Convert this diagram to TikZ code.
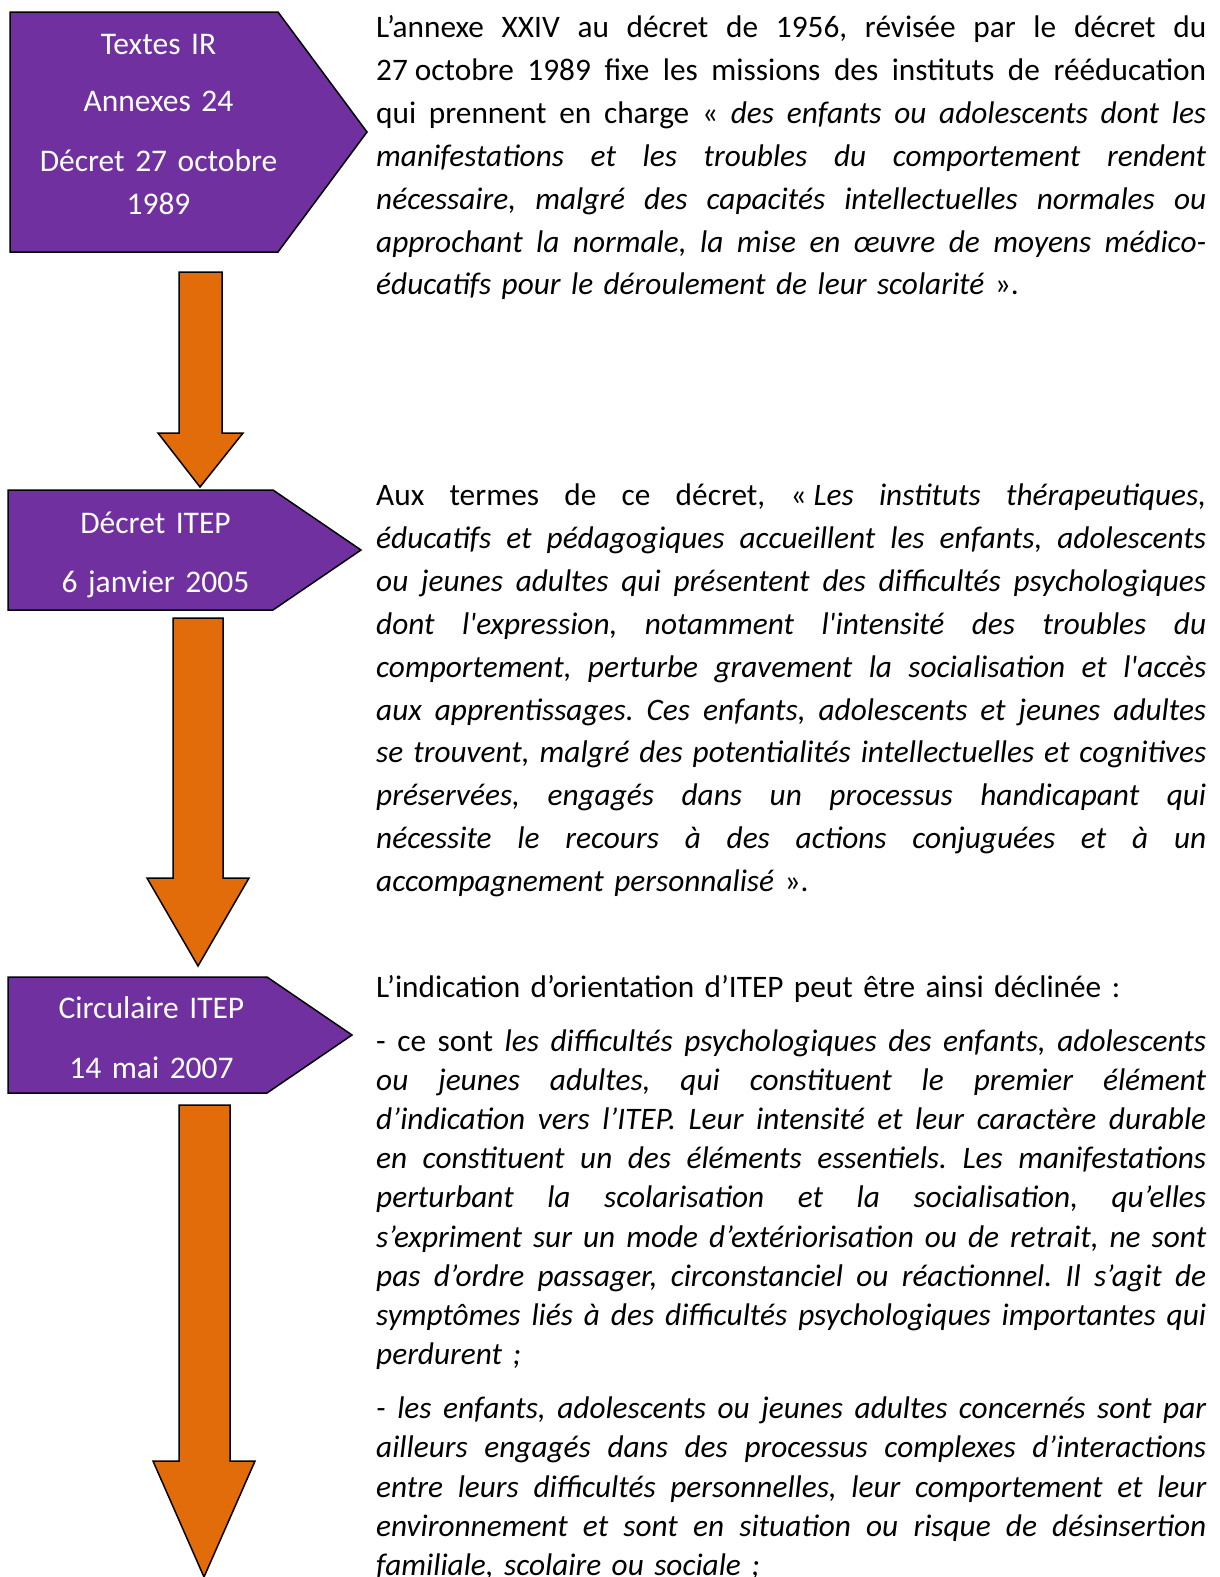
\documentclass[tikz,border=0pt]{standalone}
\usepackage{fontspec}
\setmainfont{Carlito}[Ligatures=TeXOff]
\definecolor{pentpurple}{HTML}{7030A0}
\definecolor{arroworange}{HTML}{E36C0A}
\newcommand\JLine[1]{{\spaceskip=.226em plus 1fil minus .08em\relax
  \xspaceskip=\spaceskip\makebox[830pt][s]{#1}}}
\begin{document}
\begin{tikzpicture}[x=1pt,y=-1pt,
  pent/.style={draw=black, line width=1.5pt, fill=pentpurple, line join=miter},
  blockarrow/.style={draw=black, line width=1.5pt, fill=arroworange, line join=miter},
  penttext/.style={text=white, font=\fontsize{31.5}{43}\selectfont, align=center, text width=320pt, inner sep=0pt, anchor=base},
  bodytext/.style={text=black, font=\fontsize{31.3}{42.9}\selectfont\frenchspacing, text width=830pt, inner sep=0pt, anchor=base west},
  bodytextsingle/.style={bodytext, font=\fontsize{31.3}{39.1}\selectfont\frenchspacing}]
\useasboundingbox (0,0) rectangle (1220,1577);

% pentagons
\path[pent] (10,12) -- (278,12) -- (367,132) -- (278,252) -- (10,252) -- cycle;
\path[pent] (8,490) -- (273,490) -- (361,550) -- (273,610) -- (8,610) -- cycle;
\path[pent] (8,977) -- (267,977) -- (352,1035) -- (267,1093) -- (8,1093) -- cycle;

% block arrows
\path[blockarrow] (179,272) -- (222,272) -- (222,433) -- (243,433) -- (200,487) -- (158,433) -- (179,433) -- cycle;
\path[blockarrow] (173,618) -- (223,618) -- (223,878) -- (249,878) -- (198,966) -- (147,878) -- (173,878) -- cycle;
\path[blockarrow] (179,1105) -- (230,1105) -- (230,1461) -- (255,1461) -- (204,1577) -- (153,1461) -- (179,1461) -- cycle;

% pentagon texts
\node[penttext] (t1) at (158.5,54) {Textes IR\\[14.2pt]Annexes 24\\[17pt]Décret 27 octobre\\1989};
\node[penttext] (t2) at (155.5,533) {Décret ITEP\\[16pt]6 janvier 2005};
\node[penttext] (t3) at (151.5,1018.5) {Circulaire ITEP\\[16.7pt]14 mai 2007};

% body texts
\node[bodytext] (b1) at (376,37.5) {%
\JLine{L’annexe XXIV au décret de 1956, révisée par le décret du}\\
\JLine{\mbox{27 octobre} 1989 fixe les missions des instituts de rééducation}\\
\JLine{qui prennent en charge « \textit{des enfants ou adolescents dont les}}\\
\JLine{\itshape manifestations et les troubles du comportement rendent}\\
\JLine{\itshape nécessaire, malgré des capacités intellectuelles normales ou}\\
\JLine{\itshape approchant la normale, la mise en œuvre de moyens médico-}\\
\textit{éducatifs pour le déroulement de leur scolarité} ».};

\node[bodytext] (b2) at (376,505.5) {%
\JLine{Aux termes de ce décret, \mbox{« \textit{Les}} \textit{instituts thérapeutiques,}}\\
\JLine{\itshape éducatifs et pédagogiques accueillent les enfants, adolescents}\\
\JLine{\itshape ou jeunes adultes qui présentent des difficultés psychologiques}\\
\JLine{\itshape dont l'expression, notamment l'intensité des troubles du}\\
\JLine{\itshape comportement, perturbe gravement la socialisation et l'accès}\\
\JLine{\itshape aux apprentissages. Ces enfants, adolescents et jeunes adultes}\\
\JLine{\itshape se trouvent, malgré des potentialités intellectuelles et cognitives}\\
\JLine{\itshape préservées, engagés dans un processus handicapant qui}\\
\JLine{\itshape nécessite le recours à des actions conjuguées et à un}\\
\textit{accompagnement personnalisé} ».};

\node[bodytextsingle] (b3) at (376,997) {%
L’indication d’orientation d’ITEP peut être ainsi déclinée :\\[15.4pt]
\JLine{- ce sont \textit{les difficultés psychologiques des enfants, adolescents}}\\
\JLine{\itshape ou jeunes adultes, qui constituent le premier élément}\\
\JLine{\itshape d’indication vers l’ITEP. Leur intensité et leur caractère durable}\\
\JLine{\itshape en constituent un des éléments essentiels. Les manifestations}\\
\JLine{\itshape perturbant la scolarisation et la socialisation, qu’elles}\\
\JLine{\itshape s’expriment sur un mode d’extériorisation ou de retrait, ne sont}\\
\JLine{\itshape pas d’ordre passager, circonstanciel ou réactionnel. Il s’agit de}\\
\JLine{\itshape symptômes liés à des difficultés psychologiques importantes qui}\\
\textit{perdurent ;}\\[15.4pt]
\JLine{\itshape - les enfants, adolescents ou jeunes adultes concernés sont par}\\
\JLine{\itshape ailleurs engagés dans des processus complexes d’interactions}\\
\JLine{\itshape entre leurs difficultés personnelles, leur comportement et leur}\\
\JLine{\itshape environnement et sont en situation ou risque de désinsertion}\\
\textit{familiale, scolaire ou sociale ;}};
\end{tikzpicture}
\end{document}
